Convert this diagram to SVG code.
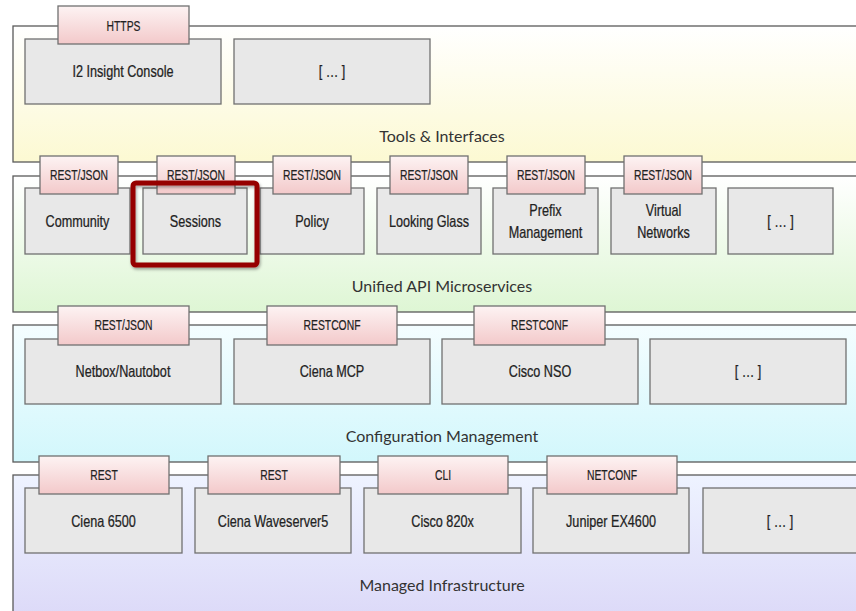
<svg xmlns="http://www.w3.org/2000/svg" width="856" height="611" viewBox="0 0 856 611">
<defs>
<linearGradient id="gY" x1="0" y1="0" x2="0" y2="1"><stop offset="0" stop-color="#ffffff"/><stop offset="1" stop-color="#fcf9d2"/></linearGradient>
<linearGradient id="gG" x1="0" y1="0" x2="0" y2="1"><stop offset="0" stop-color="#ffffff"/><stop offset="1" stop-color="#def6d4"/></linearGradient>
<linearGradient id="gC" x1="0" y1="0" x2="0" y2="1"><stop offset="0" stop-color="#f4fdff"/><stop offset="1" stop-color="#d2f7fc"/></linearGradient>
<linearGradient id="gP" x1="0" y1="0" x2="0" y2="1"><stop offset="0" stop-color="#eef3ff"/><stop offset="1" stop-color="#dcd9f8"/></linearGradient>
<linearGradient id="gTab" x1="0" y1="0" x2="0" y2="1"><stop offset="0" stop-color="#fdf3f3"/><stop offset="1" stop-color="#f3c9ca"/></linearGradient>
<filter id="sh" x="-20%" y="-20%" width="140%" height="140%"><feDropShadow dx="1" dy="2" stdDeviation="1.5" flood-color="#000" flood-opacity="0.35"/></filter>
</defs>
<style>
.layer{stroke:#5a5a5a;stroke-width:1.3}
.box{fill:#e8e8e8;stroke:#707070;stroke-width:1.3}
.tab{fill:url(#gTab);stroke:#707070;stroke-width:1.3}
.t{font-family:"Liberation Sans",Arial,sans-serif;font-size:16px;fill:#222;text-anchor:middle;dominant-baseline:central;stroke:#222;stroke-width:0.25}
.tt{font-family:"Liberation Sans",Arial,sans-serif;font-size:14px;fill:#222;text-anchor:middle;dominant-baseline:central;stroke:#222;stroke-width:0.2}
.lbl{font-family:Lato,"Open Sans",sans-serif;font-size:16px;fill:#333;text-anchor:middle;dominant-baseline:central}
</style>
<rect width="856" height="611" fill="#ffffff"/>

<g id="layer-tools">
<rect class="layer" x="13" y="26" width="860" height="136" fill="url(#gY)"/>
<text class="lbl" x="442" y="135">Tools &amp; Interfaces</text>
<g id="i2-insight-console"><rect class="box" x="25" y="39" width="196" height="65"/><text class="t" transform="translate(123,71) scale(0.79,1)">I2 Insight Console</text></g>
<g id="tools-more"><rect class="box" x="234" y="39" width="196" height="65"/><text class="t" transform="translate(332,71) scale(0.79,1)">[ … ]</text></g>
<g id="tab-https"><rect class="tab" x="58" y="6" width="131" height="38"/><text class="tt" transform="translate(123.5,26) scale(0.74,1)">HTTPS</text></g>
</g>

<g id="layer-api">
<rect class="layer" x="13" y="176" width="860" height="136" fill="url(#gG)"/>
<text class="lbl" x="442" y="285">Unified API Microservices</text>
<g id="community"><rect class="box" x="25" y="188" width="105" height="66"/><text class="t" transform="translate(77.5,221) scale(0.79,1)">Community</text></g>
<g id="sessions"><rect class="box" x="143" y="188" width="104" height="66"/><text class="t" transform="translate(195.5,221) scale(0.79,1)">Sessions</text></g>
<g id="policy"><rect class="box" x="260" y="188" width="104" height="66"/><text class="t" transform="translate(312,221) scale(0.79,1)">Policy</text></g>
<g id="looking-glass"><rect class="box" x="377" y="188" width="104" height="66"/><text class="t" transform="translate(429,221) scale(0.79,1)">Looking Glass</text></g>
<g id="prefix-management"><rect class="box" x="493" y="188" width="105" height="66"/><text class="t" transform="translate(545.5,210) scale(0.79,1)">Prefix</text><text class="t" transform="translate(545.5,232) scale(0.79,1)">Management</text></g>
<g id="virtual-networks"><rect class="box" x="611" y="188" width="105" height="66"/><text class="t" transform="translate(663.5,210) scale(0.79,1)">Virtual</text><text class="t" transform="translate(663.5,232) scale(0.79,1)">Networks</text></g>
<g id="api-more"><rect class="box" x="728" y="188" width="105" height="66"/><text class="t" transform="translate(780.5,221) scale(0.79,1)">[ … ]</text></g>
<g id="tab-community"><rect class="tab" x="40" y="156" width="78" height="38"/><text class="tt" transform="translate(79,175) scale(0.74,1)">REST/JSON</text></g>
<g id="tab-sessions"><rect class="tab" x="157" y="156" width="78" height="38"/><text class="tt" transform="translate(196,175) scale(0.74,1)">REST/JSON</text></g>
<g id="tab-policy"><rect class="tab" x="273" y="156" width="78" height="38"/><text class="tt" transform="translate(312,175) scale(0.74,1)">REST/JSON</text></g>
<g id="tab-looking-glass"><rect class="tab" x="390" y="156" width="78" height="38"/><text class="tt" transform="translate(429,175) scale(0.74,1)">REST/JSON</text></g>
<g id="tab-prefix"><rect class="tab" x="507" y="156" width="78" height="38"/><text class="tt" transform="translate(546,175) scale(0.74,1)">REST/JSON</text></g>
<g id="tab-virtual"><rect class="tab" x="624" y="156" width="78" height="38"/><text class="tt" transform="translate(663,175) scale(0.74,1)">REST/JSON</text></g>
<g id="highlight-sessions"><rect x="133" y="183" width="124" height="82" rx="3" fill="none" stroke="#960000" stroke-width="5" filter="url(#sh)"/></g>
</g>

<g id="layer-config">
<rect class="layer" x="13" y="325" width="860" height="137" fill="url(#gC)"/>
<text class="lbl" x="442" y="435">Configuration Management</text>
<g id="netbox"><rect class="box" x="25" y="339" width="196" height="65"/><text class="t" transform="translate(123,371) scale(0.79,1)">Netbox/Nautobot</text></g>
<g id="ciena-mcp"><rect class="box" x="234" y="339" width="196" height="65"/><text class="t" transform="translate(332,371) scale(0.79,1)">Ciena MCP</text></g>
<g id="cisco-nso"><rect class="box" x="442" y="339" width="196" height="65"/><text class="t" transform="translate(540,371) scale(0.79,1)">Cisco NSO</text></g>
<g id="config-more"><rect class="box" x="650" y="339" width="196" height="65"/><text class="t" transform="translate(748,371) scale(0.79,1)">[ … ]</text></g>
<g id="tab-netbox"><rect class="tab" x="58" y="306" width="131" height="39"/><text class="tt" transform="translate(123.5,325) scale(0.74,1)">REST/JSON</text></g>
<g id="tab-ciena-mcp"><rect class="tab" x="267" y="306" width="130" height="39"/><text class="tt" transform="translate(332,325) scale(0.74,1)">RESTCONF</text></g>
<g id="tab-cisco-nso"><rect class="tab" x="474" y="306" width="131" height="39"/><text class="tt" transform="translate(539.5,325) scale(0.74,1)">RESTCONF</text></g>
</g>

<g id="layer-infra">
<rect class="layer" x="13" y="475" width="860" height="145" fill="url(#gP)"/>
<text class="lbl" x="442" y="584">Managed Infrastructure</text>
<g id="ciena-6500"><rect class="box" x="25" y="488" width="157" height="65"/><text class="t" transform="translate(103.5,521) scale(0.79,1)">Ciena 6500</text></g>
<g id="ciena-waveserver5"><rect class="box" x="195" y="488" width="156" height="65"/><text class="t" transform="translate(273,521) scale(0.79,1)">Ciena Waveserver5</text></g>
<g id="cisco-820x"><rect class="box" x="364" y="488" width="157" height="65"/><text class="t" transform="translate(442.5,521) scale(0.79,1)">Cisco 820x</text></g>
<g id="juniper-ex4600"><rect class="box" x="533" y="488" width="156" height="65"/><text class="t" transform="translate(611,521) scale(0.79,1)">Juniper EX4600</text></g>
<g id="infra-more"><rect class="box" x="703" y="488" width="160" height="65"/><text class="t" transform="translate(780,521) scale(0.79,1)">[ … ]</text></g>
<g id="tab-ciena-6500"><rect class="tab" x="39" y="456" width="130" height="38"/><text class="tt" transform="translate(104,475) scale(0.74,1)">REST</text></g>
<g id="tab-waveserver"><rect class="tab" x="208" y="456" width="132" height="38"/><text class="tt" transform="translate(274,475) scale(0.74,1)">REST</text></g>
<g id="tab-cisco-820x"><rect class="tab" x="378" y="456" width="130" height="38"/><text class="tt" transform="translate(443,475) scale(0.74,1)">CLI</text></g>
<g id="tab-juniper"><rect class="tab" x="547" y="456" width="130" height="38"/><text class="tt" transform="translate(612,475) scale(0.74,1)">NETCONF</text></g>
</g>

<g id="connectors"></g>
</svg>
